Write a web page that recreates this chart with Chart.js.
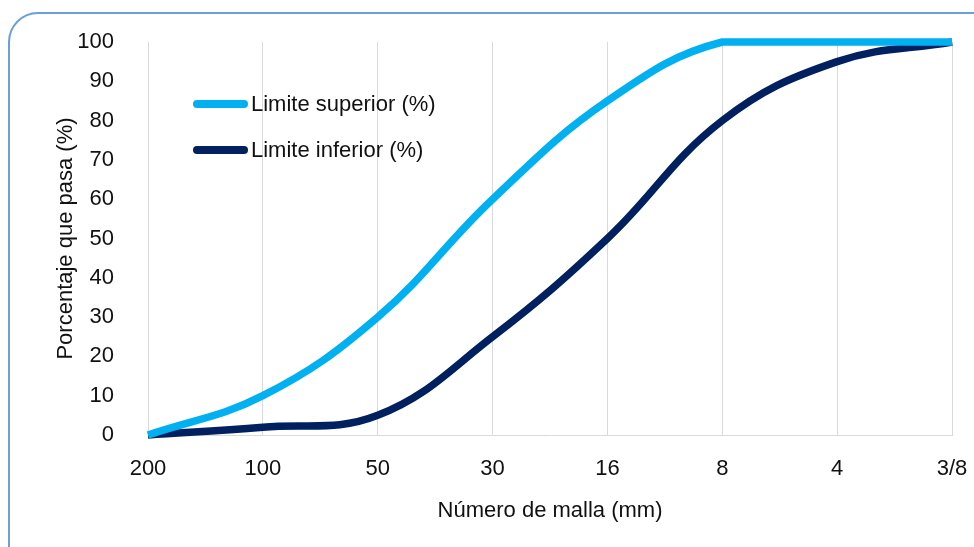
<!DOCTYPE html>
<html>
<head>
<meta charset="utf-8">
<script src="https://cdn.jsdelivr.net/npm/chart.js@4.4.1/dist/chart.umd.min.js"></script>
<style>
  html, body { margin: 0; padding: 0; background: #fff; overflow: hidden; }
  #card {
    position: absolute; left: 8px; top: 12px; width: 1000px; height: 600px;
    border: 2px solid #6a9fd8; border-radius: 30px; box-sizing: border-box;
  }
  #wrap { position: absolute; left: 0; top: 0; width: 974px; height: 547px; }
</style>
</head>
<body>
<div id="card"></div>
<div id="wrap"><canvas id="myChart" width="974" height="547"></canvas></div>
<script>
const mallas = ['200', '100', '50', '30', '16', '8', '4', '3/8'];
const limiteSuperior = [0, 10, 30, 60, 85, 100, 100, 100];
const limiteInferior = [0, 2, 5, 25, 50, 80, 95, 100];
const yTicks = [0, 10, 20, 30, 40, 50, 60, 70, 80, 90, 100];

const FONT = '"Liberation Sans", Arial, sans-serif';
const TXT = '#111';

// legend drawn inside the plot, upper left
const insideLegend = {
  id: 'insideLegend',
  afterDraw(chart) {
    const ctx = chart.ctx;
    const items = chart.data.datasets;
    ctx.save();
    items.forEach((ds, i) => {
      const y = 104 + i * 46;
      ctx.strokeStyle = ds.borderColor;
      ctx.lineWidth = 8;
      ctx.lineCap = 'round';
      ctx.beginPath();
      ctx.moveTo(197, y);
      ctx.lineTo(244, y);
      ctx.stroke();
      ctx.fillStyle = TXT;
      ctx.font = '22px ' + FONT;
      ctx.textBaseline = 'middle';
      ctx.fillText(ds.label, 251, y + 1);
    });
    ctx.restore();
  }
};

const ctx = document.getElementById('myChart');
const myChart = new Chart(ctx, {
  type: 'line',
  data: {
    labels: mallas,
    datasets: [
      {
        label: 'Limite superior (%)',
        data: limiteSuperior,
        borderColor: '#00b0f0',
        borderWidth: 7.5,
        pointRadius: 0,
        tension: 0.4,
        clip: false
      },
      {
        label: 'Limite inferior (%)',
        data: limiteInferior,
        borderColor: '#002060',
        borderWidth: 7.5,
        pointRadius: 0,
        tension: 0.4,
        clip: false
      }
    ]
  },
  options: {
    responsive: false,
    animation: false,
    layout: { padding: { left: 0, right: 22, top: 42, bottom: 0 } },
    plugins: {
      legend: { display: false },
      tooltip: { enabled: false }
    },
    scales: {
      x: {
        offset: false,
        grid: { color: '#d9d9d9', drawTicks: false, lineWidth: 1 },
        border: { color: '#d9d9d9' },
        ticks: { color: TXT, font: { family: FONT, size: 22 }, padding: 21, maxRotation: 0 },
        title: {
          display: true, text: 'Número de malla (mm)', color: TXT,
          font: { family: FONT, size: 22 }, padding: { top: 0, bottom: 23 }
        },
        afterFit(scale) {
          scale.height = 112;
          scale.paddingLeft = 0;
          scale.paddingRight = 0;
        }
      },
      y: {
        min: 0, max: 100,
        afterBuildTicks(scale) { scale.ticks = yTicks.map(v => ({ value: v })); },
        grid: { display: false },
        border: { display: false },
        ticks: { color: TXT, font: { family: FONT, size: 22 }, padding: 26 },
        title: {
          display: true, text: 'Porcentaje que pasa (%)', color: TXT,
          font: { family: FONT, size: 22 }, padding: { top: 53, bottom: 0 }
        },
        afterFit(scale) {
          scale.width = 148;
          scale.paddingTop = 0;
          scale.paddingBottom = 0;
        }
      }
    }
  },
  plugins: [insideLegend]
});
</script>
</body>
</html>
